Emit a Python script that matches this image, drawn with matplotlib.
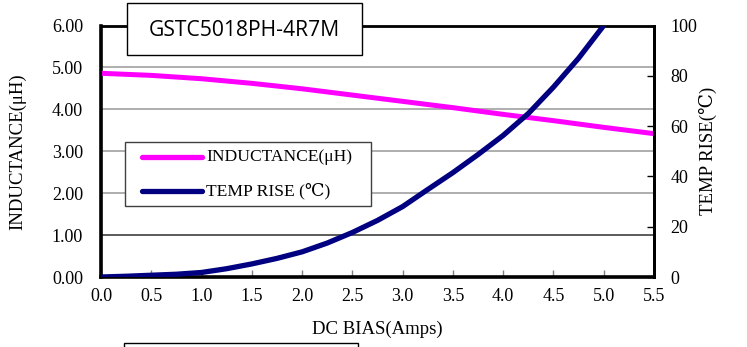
import matplotlib
matplotlib.use("Agg")
import matplotlib.pyplot as plt
from matplotlib.patches import Rectangle
from matplotlib.lines import Line2D

# ---- data ----
bias_ind = [0.0, 0.5, 1.0, 1.5, 2.0, 2.5, 3.0, 3.5, 4.0, 4.5, 5.0, 5.5]
inductance = [4.86, 4.81, 4.73, 4.62, 4.49, 4.34, 4.19, 4.04, 3.88, 3.73, 3.57, 3.42]

bias_temp = [0.0, 0.25, 0.5, 0.75, 1.0, 1.25, 1.5, 1.75, 2.0, 2.25, 2.5, 2.75,
             3.0, 3.25, 3.5, 3.75, 4.0, 4.25, 4.5, 4.75, 5.0]
temp_rise = [0.0, 0.3, 0.7, 1.1, 1.8, 3.3, 5.2, 7.4, 10.0, 13.5, 17.7, 22.5,
             28.0, 34.8, 41.5, 48.7, 56.3, 65.0, 75.5, 87.0, 100.0]

x_ticks = [0.0, 0.5, 1.0, 1.5, 2.0, 2.5, 3.0, 3.5, 4.0, 4.5, 5.0, 5.5]
y_ticks = [0, 1, 2, 3, 4, 5, 6]
y2_ticks = [0, 20, 40, 60, 80, 100]

title_text = "GSTC5018PH-4R7M"
xlabel = "DC BIAS(Amps)"
ylabel = "INDUCTANCE(\u03bcH)"
y2label = "TEMP RISE(\u2103)"
legend_labels = ["INDUCTANCE(\u03bcH)", "TEMP RISE (\u2103)"]

serif = ['Liberation Serif', 'DejaVu Serif', 'Noto Sans CJK SC']
plt.rcParams['font.family'] = serif

W, H = 747, 347
fig = plt.figure(figsize=(W / 100, H / 100), dpi=100)
L, R, B, T = 101, 654, 277, 25.5
ax = fig.add_axes([L / W, 1 - B / H, (R - L) / W, (B - T) / H])
ax.set_xlim(0, 5.5)
ax.set_ylim(0, 6)

for yv in [2, 3, 4, 5]:
    ax.axhline(yv, color='#a8a8a8', lw=1.3, zorder=1)
ax.axhline(1, color='#404040', lw=1.2, zorder=1)

ax.set_xticks(x_ticks)
ax.set_xticklabels([f"{v:.1f}" for v in x_ticks])
ax.set_yticks(y_ticks)
ax.set_yticklabels([f"{v:.2f}" for v in y_ticks])
ax.tick_params(axis='x', direction='in', length=5, width=1, color='#808080',
               labelsize=13, pad=8)
ax.tick_params(axis='y', length=0, labelsize=13, pad=13)
for s in ['left', 'bottom']:
    ax.spines[s].set_linewidth(2.6)
for s in ['top', 'right']:
    ax.spines[s].set_linewidth(2.0)

ax.plot(bias_ind, inductance, color='#ff00ff', lw=3.6, zorder=3,
        solid_capstyle='butt', clip_on=False)

ax2 = ax.twinx()
ax2.set_ylim(0, 100)
ax2.set_yticks(y2_ticks)
ax2.set_yticklabels([str(v) for v in y2_ticks])
ax2.tick_params(axis='y', direction='in', length=5, width=1, labelsize=13, pad=12)
ax2.spines['right'].set_linewidth(2.0)
ax2.plot(bias_temp, temp_rise, color='#000080', lw=3.8, zorder=3,
         solid_capstyle='butt', solid_joinstyle='round')

ax.set_xlabel(xlabel, fontsize=13.5)
ax.xaxis.set_label_coords(0.5, -0.175)
ax.set_ylabel(ylabel, fontsize=13.5)
ax.yaxis.set_label_coords(-0.135, 0.5)
ax2.set_ylabel(y2label, fontsize=13.5)
ax2.yaxis.set_label_coords(1.082, 0.5)

# legend box
lx0, lx1, ly0, ly1 = 125, 371, 142, 206
fig.patches.append(Rectangle((lx0 / W, 1 - ly1 / H), (lx1 - lx0) / W, (ly1 - ly0) / H,
                             transform=fig.transFigure, facecolor='white',
                             edgecolor='#404040', lw=1.0, zorder=5))
for i, (lab, col) in enumerate(zip(legend_labels, ['#ff00ff', '#000080'])):
    yy = [157, 191][i]
    fig.add_artist(Line2D([142 / W, 202 / W], [1 - yy / H, 1 - yy / H], color=col,
                          lw=3.8, zorder=6, solid_capstyle='round'))
    fig.text(206 / W, 1 - yy / H, lab, fontsize=12.6, va='center', ha='left', zorder=6,
             family=serif)

# title box
tx0, tx1, ty0, ty1 = 127, 362, 3, 55
fig.patches.append(Rectangle((tx0 / W, 1 - ty1 / H), (tx1 - tx0) / W, (ty1 - ty0) / H,
                             transform=fig.transFigure, facecolor='white',
                             edgecolor='black', lw=1.0, zorder=5))
fig.text((tx0 + tx1) / 2 / W, 1 - 31 / H, title_text, fontsize=15.2, ha='center',
         va='center', zorder=6, family=['Open Sans', 'DejaVu Sans'])

# bottom partial box
fig.patches.append(Rectangle((124 / W, -0.1), (358 - 124) / W, 0.1 + (1 - 343 / H),
                             transform=fig.transFigure, facecolor='white',
                             edgecolor='black', lw=1.0, zorder=5))

fig.savefig("out.png", dpi=100)
